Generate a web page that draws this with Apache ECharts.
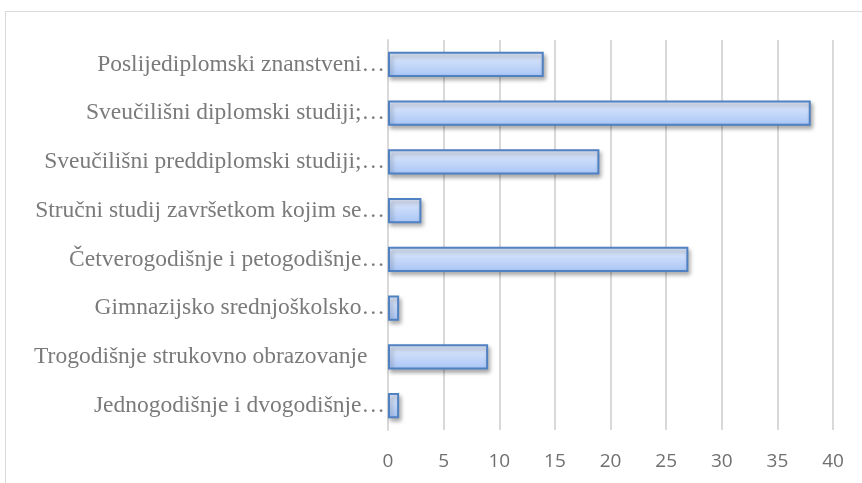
<!DOCTYPE html>
<html>
<head>
<meta charset="utf-8">
<script src="https://cdn.jsdelivr.net/npm/echarts@6/dist/echarts.min.js"></script>
<style>
  html, body { margin: 0; padding: 0; background: #fff; }
  #frame {
    position: absolute; left: 5px; top: 11px; width: 870px; height: 480px;
    border: 1px solid #d9d9d9; box-sizing: border-box;
  }
  #chart { width: 862px; height: 483px; position: absolute; left: 0; top: 0; }
</style>
</head>
<body>
<div id="frame"></div>
<div id="chart"></div>
<script>
// bottom to top, as ECharts draws a category yAxis
const categories = [
  'Jednogodišnje i dvogodišnje…',
  'Trogodišnje strukovno obrazovanje   ',
  'Gimnazijsko srednjoškolsko…',
  'Četverogodišnje i petogodišnje…',
  'Stručni studij završetkom kojim se…',
  'Sveučilišni preddiplomski studiji;…',
  'Sveučilišni diplomski studiji;…',
  'Poslijediplomski znanstveni…'
];
const values = [1, 9, 1, 27, 3, 19, 38, 14];
const xTicks = { min: 0, max: 40, interval: 5 };

const myChart = echarts.init(document.getElementById('chart'));
myChart.setOption({
  animation: false,
  grid: { left: 388, right: 29, top: 40, bottom: 53 },
  xAxis: {
    type: 'value',
    min: xTicks.min,
    max: xTicks.max,
    interval: xTicks.interval,
    axisLine: { show: false },
    axisTick: { show: false },
    splitLine: { lineStyle: { color: '#d9d9d9', width: 2 } },
    axisLabel: {
      color: '#6f6f6f',
      fontFamily: 'Open Sans',
      fontSize: 19,
      margin: 22
    }
  },
  yAxis: {
    type: 'category',
    data: categories,
    axisLine: { lineStyle: { color: '#d9d9d9', width: 2 } },
    axisTick: { show: false },
    axisLabel: {
      color: '#7a7a7a',
      fontFamily: 'Liberation Serif',
      fontSize: 23.5,
      margin: 3
    }
  },
  series: [{
    type: 'bar',
    data: values,
    barCategoryGap: '48%',
    itemStyle: {
      color: new echarts.graphic.LinearGradient(0, 0, 0, 1, [
        { offset: 0, color: '#e3ecfc' },
        { offset: 1, color: '#a8c5f6' }
      ]),
      borderColor: '#4f81c3',
      borderWidth: 2,
      shadowColor: 'rgba(0,0,0,0.3)',
      shadowBlur: 4,
      shadowOffsetX: 2,
      shadowOffsetY: 3
    }
  }]
});
</script>
</body>
</html>
